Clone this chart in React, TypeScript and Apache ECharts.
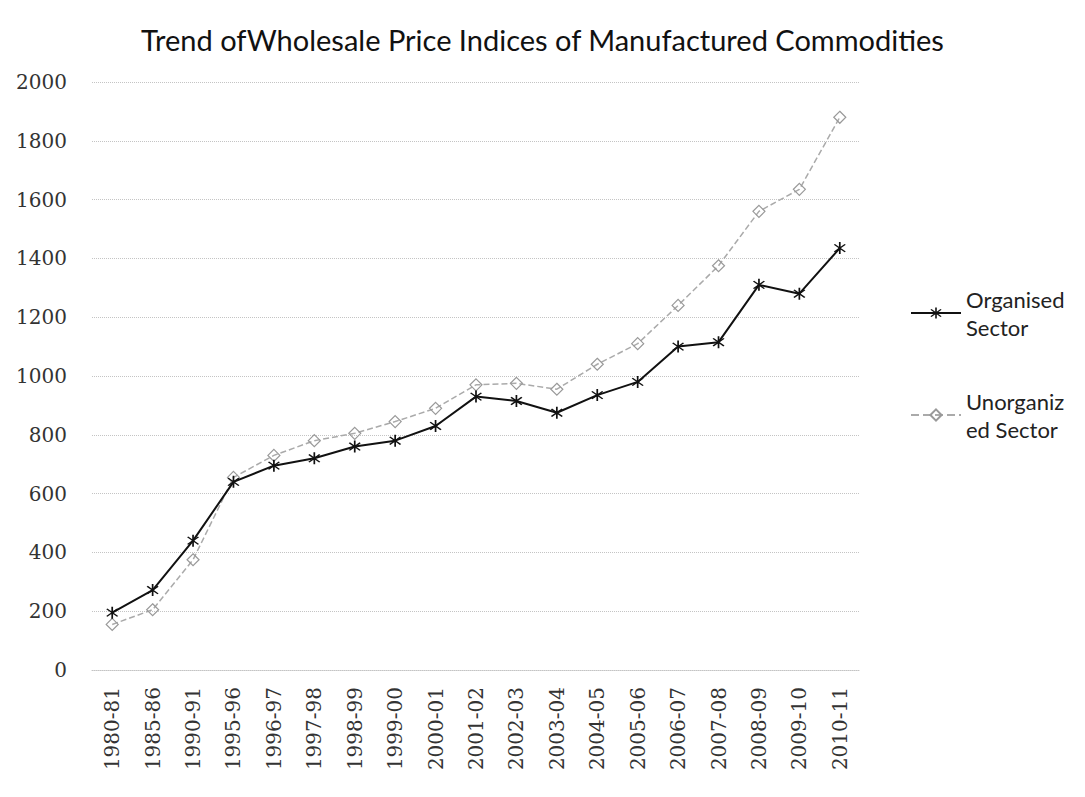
import React, { useEffect, useRef } from "react";
import * as echarts from "echarts";

const categories = [
  "1980-81", "1985-86", "1990-91", "1995-96", "1996-97", "1997-98", "1998-99",
  "1999-00", "2000-01", "2001-02", "2002-03", "2003-04", "2004-05", "2005-06",
  "2006-07", "2007-08", "2008-09", "2009-10", "2010-11",
];
const organised = [195, 272, 440, 640, 695, 720, 760, 780, 830, 930, 915, 875, 935, 980, 1100, 1115, 1310, 1280, 1435];
const unorganised = [155, 205, 375, 655, 730, 780, 805, 845, 890, 970, 975, 955, 1040, 1110, 1240, 1375, 1560, 1635, 1880];
const seriesNames = ["Organised Sector", "Unorganized Sector"];
const legendLabels = ["Organised\nSector", "Unorganiz\ned Sector"];
const titleText = "Trend ofWholesale Price Indices of Manufactured Commodities";

const starPath =
  "path://M9,0L11,0L11,20L9,20Z M3,4.4L4.4,3L17,15.6L15.6,17Z M15.6,3L17,4.4L4.4,17L3,15.6Z";

export default function App() {
  const ref = useRef<HTMLDivElement>(null);
  useEffect(() => {
    if (!ref.current) return;
    const chart = echarts.init(ref.current, null, { renderer: "svg" });
    chart.setOption({
      animation: false,
      backgroundColor: "#ffffff",
      title: {
        text: titleText,
        left: "center",
        top: 20,
        textStyle: { fontFamily: "Lato", fontSize: 29, fontWeight: "normal", color: "#111" },
      },
      legend: {
        orient: "vertical",
        left: 905,
        top: 266,
        itemWidth: 50,
        itemHeight: 14,
        itemGap: 18,
        data: seriesNames,
        formatter: (name: string) => legendLabels[seriesNames.indexOf(name)],
        textStyle: {
          fontFamily: "Lato",
          fontSize: 22,
          color: "#222",
          lineHeight: 28,
          padding: [28, 0, 0, 0],
        },
      },
      grid: { left: 92, right: 225, top: 82, bottom: 127 },
      xAxis: {
        type: "category",
        data: categories,
        boundaryGap: true,
        axisTick: { show: false },
        axisLine: { show: true, lineStyle: { color: "#c4c4c4", type: "dotted", width: 1 } },
        axisLabel: {
          interval: 0,
          rotate: 90,
          margin: 17,
          fontFamily: "DejaVu Serif",
          fontSize: 20,
          color: "#333",
        },
      },
      yAxis: {
        type: "value",
        min: 0,
        max: 2000,
        interval: 200,
        axisLine: { show: false },
        axisTick: { show: false },
        axisLabel: {
          margin: 25,
          fontFamily: "DejaVu Serif",
          fontSize: 20,
          color: "#333",
          formatter: (v: number) => String(v),
        },
        splitLine: { lineStyle: { color: "#c4c4c4", type: "dotted", width: 1 } },
      },
      series: [
        {
          name: seriesNames[1],
          type: "line",
          data: unorganised,
          symbol: "diamond",
          symbolSize: 12,
          lineStyle: { color: "#aaa", width: 1.5, type: "dashed" },
          itemStyle: { color: "rgba(0,0,0,0)", borderColor: "#999", borderWidth: 1.2 },
          z: 2,
        },
        {
          name: seriesNames[0],
          type: "line",
          data: organised,
          symbol: starPath,
          symbolSize: 12,
          lineStyle: { color: "#111", width: 2 },
          itemStyle: { color: "#111" },
          z: 3,
        },
      ],
    });
    return () => chart.dispose();
  }, []);
  return (
    <div
      ref={ref}
      style={{ position: "fixed", left: 0, top: 0, width: 1085, height: 797 }}
    />
  );
}
